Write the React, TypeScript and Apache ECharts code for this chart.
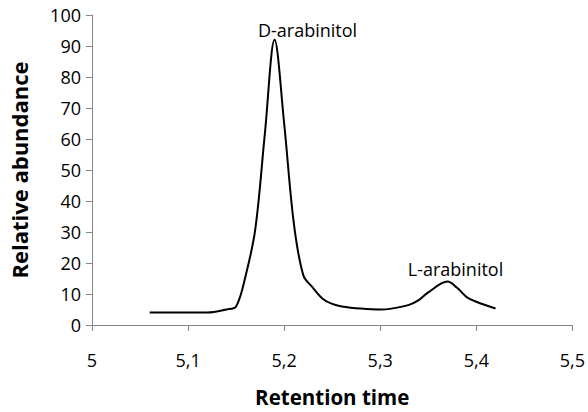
import React, { useEffect, useRef } from "react";
import * as echarts from "echarts";

const retentionTimes = [
  5.06, 5.08, 5.1, 5.12, 5.14, 5.15, 5.16, 5.17, 5.18, 5.19, 5.2, 5.21, 5.22, 5.23, 5.24,
  5.25, 5.26, 5.28, 5.3, 5.31, 5.33, 5.34, 5.35, 5.37, 5.38, 5.39, 5.4, 5.42,
];
const abundance = [
  4, 4, 4, 4, 5, 6, 16, 31, 62, 92, 65, 33, 16, 12, 8.5,
  6.8, 6, 5.3, 5, 5.2, 6.5, 8, 10.5, 14, 12, 9, 7.5, 5.3,
];
const peakLabels: { x: number; text: string; offset: [number, number] }[] = [
  { x: 5.19, text: "D-arabinitol", offset: [33, 3] },
  { x: 5.37, text: "L-arabinitol", offset: [8, 0] },
];

const FONT = "'Open Sans', 'Noto Sans', sans-serif";

export default function App() {
  const ref = useRef<HTMLDivElement>(null);
  useEffect(() => {
    if (!ref.current) return;
    const chart = echarts.init(ref.current, null, { renderer: "svg" });
    const data = retentionTimes.map((t, i) => {
      const lbl = peakLabels.find((p) => p.x === t);
      if (lbl) {
        return {
          value: [t, abundance[i]],
          label: {
            show: true,
            position: "top",
            distance: 4,
            formatter: lbl.text,
            offset: lbl.offset,
            color: "#000",
            fontSize: 18,
            fontFamily: FONT,
          },
        };
      }
      return { value: [t, abundance[i]] };
    });
    chart.setOption({
      animation: false,
      backgroundColor: "#fff",
      textStyle: { fontFamily: FONT },
      grid: { left: 90, right: 14, top: 15, bottom: 81, containLabel: false },
      xAxis: {
        type: "value",
        min: 5,
        max: 5.5,
        interval: 0.1,
        name: "Retention time",
        nameLocation: "middle",
        nameGap: 61,
        nameTextStyle: { fontSize: 20.5, fontWeight: "bold", color: "#000", fontFamily: FONT },
        axisLine: { show: true, lineStyle: { color: "#868686", width: 1 } },
        axisTick: { show: true, length: 6, inside: false, lineStyle: { color: "#868686" } },
        axisLabel: {
          margin: 26,
          fontSize: 18,
          color: "#000",
          fontFamily: FONT,
          formatter: (v: number) => String(+v.toFixed(1)).replace(".", ","),
        },
        splitLine: { show: false },
      },
      yAxis: {
        type: "value",
        min: 0,
        max: 100,
        interval: 10,
        name: "Relative abundance",
        nameLocation: "middle",
        nameGap: 62,
        nameRotate: 90,
        nameTextStyle: { fontSize: 22, fontWeight: "bold", color: "#000", fontFamily: FONT },
        axisLine: { show: true, lineStyle: { color: "#868686", width: 1 } },
        axisTick: { show: true, length: 6, inside: false, lineStyle: { color: "#868686" } },
        axisLabel: { margin: 11, fontSize: 18, color: "#000", fontFamily: FONT },
        splitLine: { show: false },
      },
      series: [
        {
          type: "line",
          data,
          smooth: 0.35,
          showSymbol: true,
          symbol: "circle",
          symbolSize: 0,
          itemStyle: { color: "#000" },
          lineStyle: { color: "#000", width: 2 },
        },
      ],
    });
    return () => chart.dispose();
  }, []);
  return <div ref={ref} style={{ width: 588, height: 412, position: "absolute", left: 0, top: 0 }} />;
}
